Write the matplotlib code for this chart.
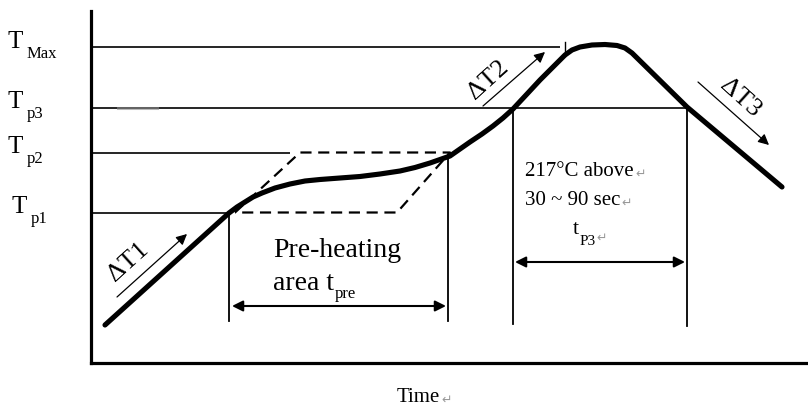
"""Reflow soldering temperature profile (schematic)."""

import matplotlib

matplotlib.use("Agg")
import matplotlib.pyplot as plt

SERIF = ["Liberation Serif", "DejaVu Serif"]
MARK = ["DejaVu Sans"]

# ---- data (time / temperature in arbitrary diagram units) -------------------
level_names = ["Max", "p3", "p2", "p1"]
level_values = [316, 255.5, 210.5, 150.5]
level_line_end = [469, 597, 199, 139]

profile_t = [14, 138, 146, 154, 162, 171, 184, 199, 214, 229, 249, 269, 289,
             309, 324, 339, 349, 359, 369, 379, 391, 402, 412, 422, 436, 449,
             464, 474, 481, 489, 501, 514, 526, 534, 541, 596, 691]
profile_T = [38, 150, 156, 161, 166, 170, 175, 179, 182, 183.5, 185, 186.5,
             189, 192, 195.5, 200, 203.5, 207, 214, 221, 229, 237, 245, 254,
             269, 283, 298, 308, 313, 316, 318, 318.5, 317.5, 315, 310, 256,
             176]

# dashed preheat window (parallelogram)
window_t = [144, 209, 359, 306, 144]
window_T = [150.5, 210.5, 210.5, 150.5, 150.5]

# vertical markers: time, bottom, top
marker_t = [138, 357, 422, 596]
marker_bottom = [42, 42, 39, 37]
marker_top = [150.5, 207, 255.5, 255.5]

# duration arrows: start, end, level
preheat_span = (141, 355, 57)
reflow_span = (424, 594, 101)

# slope arrows: (t0, T0, t1, T1)
slope_arrows = [(26, 66, 96, 129), (392, 257, 454, 311), (607, 281, 678, 218)]
slope_labels = ["ΔT1", "ΔT2", "ΔT3"]
slope_label_pos = [(37, 102, 42), (397, 284, 42), (649, 266, -42)]

# ---- figure -----------------------------------------------------------------
fig = plt.figure(figsize=(8.08, 4.06), dpi=100)
ax = fig.add_axes([91 / 808, 42 / 406, 717 / 808, 352 / 406])
ax.set_xlim(0, 717)
ax.set_ylim(0, 352)
for side in ("top", "right"):
    ax.spines[side].set_visible(False)
for side in ("left", "bottom"):
    ax.spines[side].set_linewidth(2.3)
ax.set_xticks([])
ax.set_yticks([])

# level lines + labels
for name, val, end in zip(level_names, level_values, level_line_end):
    ax.plot([0, end], [val, val], color="black", lw=1.2, solid_capstyle="butt")
    x0 = -84 if name != "p1" else -80
    ax.text(x0, val, "T", fontsize=18, family=SERIF, va="baseline", ha="left")
    ax.text(x0 + 20, val - 10, name, fontsize=12, family=SERIF,
            va="baseline", ha="left")

# small marks
ax.plot([27, 66], [255.5, 255.5], color="0.55", lw=2.2, alpha=0.6)
ax.plot([474, 474], [307, 321], color="black", lw=1.0)

# dashed preheat window
ax.plot(window_t, window_T, color="black", lw=1.6, ls=(0, (5, 3)))

# vertical markers
for t, lo, hi in zip(marker_t, marker_bottom, marker_top):
    ax.plot([t, t], [lo, hi], color="black", lw=1.3)

# duration arrows
for t0, t1, lev in (preheat_span, reflow_span):
    ax.annotate("", xy=(t1, lev), xytext=(t0, lev),
                arrowprops=dict(arrowstyle="<|-|>", color="black", lw=1.5,
                                mutation_scale=16, shrinkA=0, shrinkB=0))

# profile curve
ax.plot(profile_t, profile_T, color="black", lw=3.7,
        solid_capstyle="round", solid_joinstyle="round")

# slope arrows + labels
for (t0, T0, t1, T1), lab, (lx, ly, rot) in zip(slope_arrows, slope_labels,
                                                 slope_label_pos):
    ax.annotate("", xy=(t1, T1), xytext=(t0, T0),
                arrowprops=dict(arrowstyle="-|>", color="black", lw=0.9,
                                mutation_scale=16, shrinkA=0, shrinkB=0))
    ax.text(lx, ly, lab, fontsize=19, family=SERIF, rotation=rot,
            rotation_mode="anchor", ha="center", va="center")

# text blocks
ax.text(182, 107, "Pre-heating", fontsize=20, family=SERIF, va="baseline")
ax.text(182, 74, "area t", fontsize=20, family=SERIF, va="baseline")
ax.text(244, 66, "pre", fontsize=12, family=SERIF, va="baseline")


def with_mark(x, y, s, size):
    txt = ax.text(x, y, s, fontsize=size, family=SERIF, va="baseline")
    ax.annotate("↵", xy=(1, 0), xycoords=txt, xytext=(1, 0),
                textcoords="offset points", fontsize=size * 0.6,
                family=MARK, color="0.6", va="bottom")
    return txt


with_mark(434, 188, "217°C above", 15)
with_mark(434, 159, "30 ~ 90 sec", 15)
tt = ax.text(482, 130, "t", fontsize=16, family=SERIF, va="baseline")
sub = ax.annotate("P3", xy=(1, 0), xycoords=tt, xytext=(0, -4),
                  textcoords="offset points", fontsize=11, family=SERIF,
                  va="baseline")
ax.annotate("↵", xy=(1, 0), xycoords=sub, xytext=(1, 2),
            textcoords="offset points", fontsize=9, family=MARK,
            color="0.6", va="bottom")

with_mark(306, -38, "Time", 15)

fig.savefig("out.png", dpi=100)
